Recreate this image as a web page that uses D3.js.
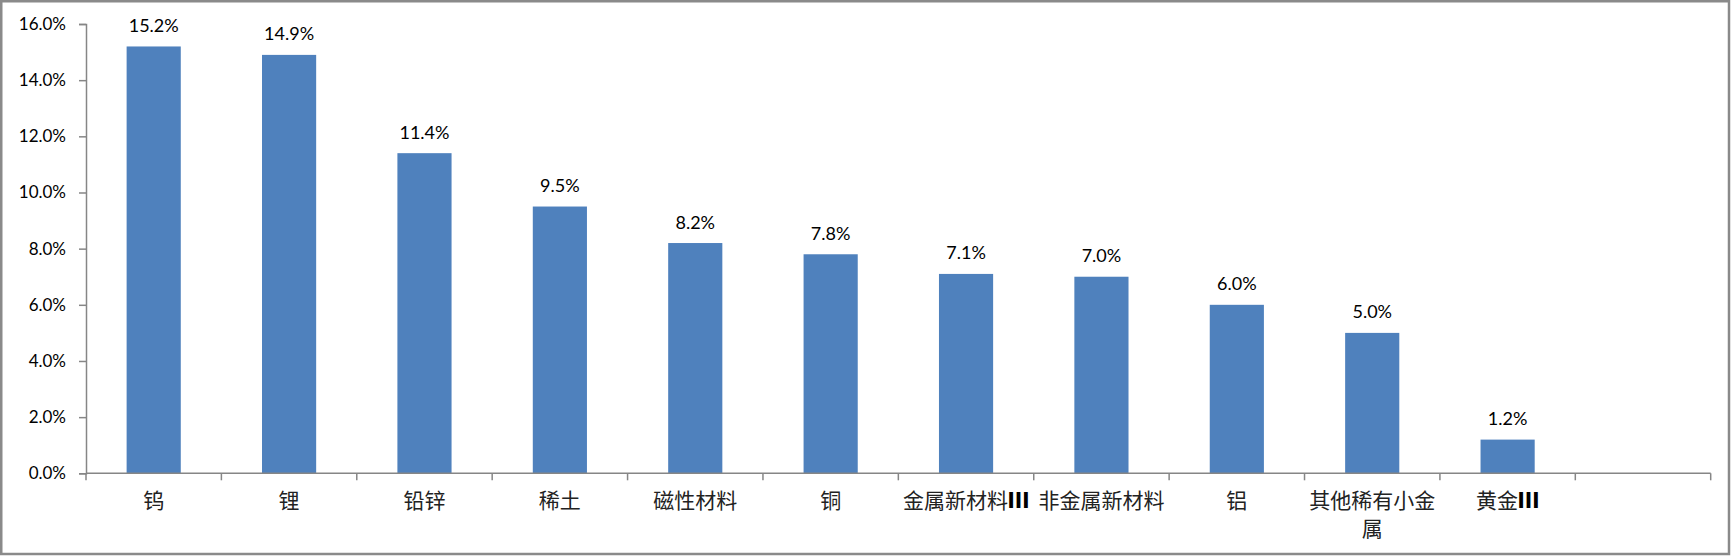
<!DOCTYPE html>
<html>
<head>
<meta charset="utf-8">
<script src="https://cdn.jsdelivr.net/npm/d3@7/dist/d3.min.js"></script>
<style>
  html, body { margin: 0; padding: 0; background: #fff; }
  svg { display: block; }
</style>
</head>
<body>
<svg id="chart" width="1735" height="556"></svg>
<script>
// ---- data ----
const categories = ["钨", "锂", "铅锌", "稀土", "磁性材料", "铜", "金属新材料Ⅲ", "非金属新材料", "铝", "其他稀有小金属", "黄金Ⅲ", ""];
const values = [15.2, 14.9, 11.4, 9.5, 8.2, 7.8, 7.1, 7.0, 6.0, 5.0, 1.2];
const yTicks = [0, 2, 4, 6, 8, 10, 12, 14, 16];

const W = 1735, H = 556;
const margin = { left: 86, right: 24.3, top: 24, bottom: 82.7 };
const svg = d3.select("#chart");

// outer border
svg.append("rect")
  .attr("x", 1.25).attr("y", 1.25)
  .attr("width", 1729 - 1.25).attr("height", 554 - 1.25)
  .attr("fill", "#fff").attr("stroke", "#8a8a8a").attr("stroke-width", 2.5);

const x0 = margin.left, x1 = W - margin.right;
const y0 = H - margin.bottom, y1 = margin.top;

const x = d3.scaleBand().domain(d3.range(categories.length)).range([x0, x1]).paddingInner(0.6).paddingOuter(0.3);
const y = d3.scaleLinear().domain([0, 16]).range([y0, y1]);
const axisColor = "#868686";

// y axis
const yAxis = d3.axisLeft(y).tickValues(yTicks).tickSize(7).tickPadding(13)
  .tickFormat(d => d3.format(".1f")(d) + "%");
const gy = svg.append("g").attr("transform", `translate(${x0},0)`).call(yAxis);
gy.select(".domain").attr("stroke", axisColor).attr("stroke-width", 1.5);
gy.selectAll(".tick line").attr("stroke", axisColor).attr("stroke-width", 1.5);
gy.selectAll(".tick text").attr("font-family", "Lato, 'Liberation Sans', sans-serif")
  .attr("font-size", 17).attr("fill", "#000");

// bars
svg.append("g").selectAll("rect").data(values).join("rect")
  .attr("x", (d, i) => x(i))
  .attr("width", x.bandwidth())
  .attr("y", d => y(d))
  .attr("height", d => y(0) - y(d))
  .attr("fill", "#4F81BD");

// data labels
svg.append("g").selectAll("text").data(values).join("text")
  .attr("x", (d, i) => x(i) + x.bandwidth() / 2)
  .attr("y", d => y(d) - 14.5)
  .attr("text-anchor", "middle")
  .attr("font-family", "Lato, 'Liberation Sans', sans-serif")
  .attr("font-size", 18).attr("fill", "#000")
  .text(d => d3.format(".1f")(d) + "%");

// x axis line and boundary ticks
const gx = svg.append("g");
gx.append("line").attr("x1", x0).attr("x2", x1).attr("y1", y0).attr("y2", y0)
  .attr("stroke", axisColor).attr("stroke-width", 1.5);
const boundaries = d3.range(categories.length + 1).map(i => x0 + i * x.step());
gx.selectAll("line.tick").data(boundaries).join("line").attr("class", "tick")
  .attr("x1", d => d).attr("x2", d => d).attr("y1", y0).attr("y2", y0 + 7)
  .attr("stroke", axisColor).attr("stroke-width", 1.5);

// category labels (wrap to slot width)
const fontSize = 21;
const maxChars = Math.floor((x.step() - 6) / fontSize);
categories.forEach((c, i) => {
  if (!c) return;
  const lines = [];
  for (let k = 0; k < c.length; k += maxChars) lines.push(c.slice(k, k + maxChars));
  const cx = x(i) + x.bandwidth() / 2;
  const t = svg.append("text")
    .attr("text-anchor", "middle")
    .attr("font-family", "'Noto Sans CJK SC', sans-serif")
    .attr("font-size", fontSize).attr("fill", "#222");
  lines.forEach((ln, j) => {
    const ts = t.append("tspan").attr("x", cx).attr("y", 499 + j * 28)
      .attr("dominant-baseline", "central");
    // split so the roman numeral can be drawn heavier, as in the reference
    ln.split(/(Ⅲ)/).filter(s => s).forEach(part => {
      ts.append("tspan").attr("font-weight", part === "Ⅲ" ? 900 : 400)
        .attr("fill", part === "Ⅲ" ? "#000" : null).text(part);
    });
  });
});
</script>
</body>
</html>
